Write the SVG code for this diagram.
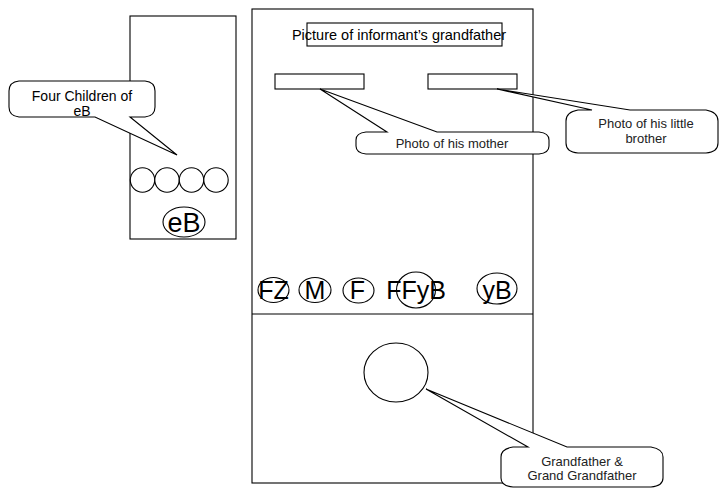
<svg xmlns="http://www.w3.org/2000/svg" width="722" height="489" viewBox="0 0 722 489">
<style>
.ln{fill:none;stroke:#000;stroke-width:1.1}
.bx{fill:#fff;stroke:#000;stroke-width:1.1}
.t{font-family:"Liberation Sans",Arial,sans-serif;fill:#000;text-anchor:middle}
.s{font-size:13px;fill:#222}
.b{font-size:25px}
</style>
<rect width="722" height="489" fill="#fff"/>
<g id="left-box"><rect class="bx" x="130" y="16" width="106" height="223"/></g>
<g id="main-box"><rect class="bx" x="252" y="9" width="281" height="474"/><line class="ln" x1="252" y1="314" x2="533" y2="314"/></g>
<g id="title"><rect class="bx" x="307" y="23" width="195" height="23"/><text class="t" x="399" y="40" font-size="14.5">Picture of informant’s grandfather</text></g>
<g id="photo-mother"><rect class="bx" x="275" y="74" width="89" height="15"/></g>
<g id="photo-brother"><rect class="bx" x="428" y="74" width="89" height="15"/></g>
<g id="children">
<circle class="bx" cx="142.5" cy="180" r="12.2"/>
<circle class="bx" cx="167" cy="180" r="12.2"/>
<circle class="bx" cx="191.5" cy="180" r="12.2"/>
<circle class="bx" cx="216" cy="180" r="12.2"/>
</g>
<g id="eB"><ellipse class="bx" cx="184" cy="222" rx="21" ry="15"/><text class="t" x="184" y="232" font-size="27">eB</text></g>
<g id="FZ"><ellipse class="bx" cx="273.5" cy="290" rx="15.5" ry="12.5"/><text class="t b" x="273.5" y="298.5">FZ</text></g>
<g id="M"><ellipse class="bx" cx="315" cy="290" rx="16" ry="12.5"/><text class="t b" x="315" y="298.5">M</text></g>
<g id="F"><ellipse class="bx" cx="358.5" cy="290.5" rx="15.5" ry="12.5"/><text class="t b" x="357.5" y="298.5">F</text></g>
<g id="FFyB"><ellipse class="ln" cx="416" cy="290" rx="19.5" ry="18"/><text class="t b" x="416" y="298.5">FFyB</text></g>
<g id="yB"><ellipse class="bx" cx="497" cy="288.5" rx="20" ry="15.5"/><text class="t b" x="497" y="298.5">yB</text></g>
<g id="grandfather"><ellipse class="bx" cx="396" cy="372.5" rx="32" ry="29.5"/></g>
<g id="connectors">
<path class="bx" d="M19,81 L145,81 Q155,82 155,91 L155,107 Q155,116 145,117 L130,117 L177,155 L95,117 L19,117 Q9,116 9,107 L9,91 Q9,82 19,81 Z"/>
<path class="bx" d="M366,132 L387,132 L320,89 L437,132 L539,132 Q549,133 549,140 L549,146 Q549,153 539,154 L366,154 Q356,153 356,146 L356,140 Q356,133 366,132 Z"/>
<path class="bx" d="M578,110 L592,110 L497,89 L630,110 L706,110 Q718,112 718,121 L718,143 Q718,152 706,153 L578,153 Q566,152 566,143 L566,121 Q566,112 578,110 Z"/>
<path class="bx" d="M513,447 L528,447 L426,389 L567,447 L651,447 Q663,449 663,457 L663,478 Q663,486 651,487 L513,487 Q501,486 501,478 L501,457 Q501,449 513,447 Z"/>
</g>
<g id="labels">
<text class="t" x="82" y="100.5" font-size="14" fill="#222">Four Children of</text>
<text class="t" x="82" y="116" font-size="14" fill="#222">eB</text>
<text class="t s" x="452" y="148">Photo of his mother</text>
<text class="t s" x="646" y="128">Photo of his little</text>
<text class="t s" x="646" y="143">brother</text>
<text class="t s" x="582" y="466">Grandfather &amp;</text>
<text class="t s" x="582" y="480">Grand Grandfather</text>
</g>
</svg>
